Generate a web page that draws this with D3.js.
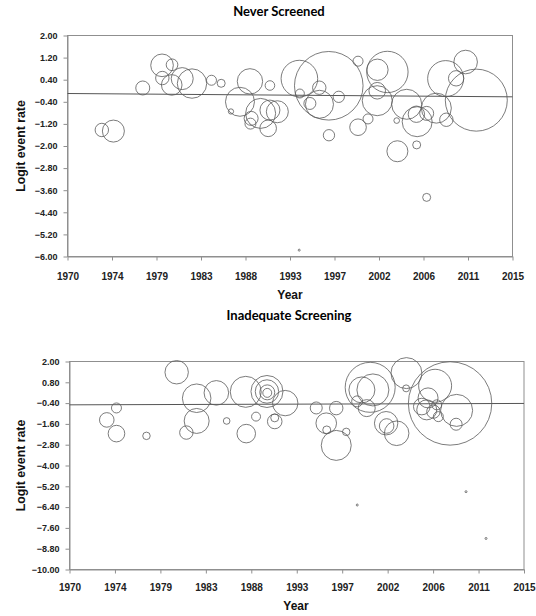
<!DOCTYPE html>
<html>
<head>
<meta charset="utf-8">
<script src="https://cdn.jsdelivr.net/npm/d3@7"></script>
<style>
  body { margin: 0; background: #fff; }
  svg { display: block; }
</style>
</head>
<body>
<div id="chart"></div>
<script>
// [year, logit event rate, study weight]
const neverScreened = [
  [1973.47, -1.42, 45], [1974.64, -1.46, 121], [1977.61, 0.10, 49], [1979.56, 0.92, 128],
  [1980.57, 0.94, 34], [1979.59, 0.46, 45], [1980.54, 0.21, 106], [1981.60, 0.44, 121],
  [1982.59, 0.26, 216], [1984.56, 0.38, 25], [1985.54, 0.27, 16], [1988.45, 0.34, 161],
  [1987.44, -0.40, 210], [1986.53, -0.75, 7], [1990.47, 0.19, 23], [1989.53, -0.82, 225],
  [1990.47, -0.70, 100], [1991.22, -0.76, 121], [1988.57, -1.00, 49], [1988.50, -1.19, 30],
  [1990.29, -1.36, 69], [1993.45, 0.44, 335], [1996.42, 0.18, 1176], [1993.50, -0.10, 20],
  [1995.46, 0.11, 45], [1994.51, -0.46, 36], [1995.48, -0.49, 196], [1997.43, -0.22, 32],
  [1999.38, 1.07, 25], [2001.34, 0.76, 114], [2002.35, 0.68, 428], [2001.32, 0.00, 69],
  [2001.32, -0.36, 225], [2000.39, -1.02, 25], [1999.38, -1.32, 69], [1996.44, -1.61, 32],
  [2003.29, -1.08, 8], [2003.36, -2.19, 110], [2004.30, -0.49, 225], [2005.36, -1.12, 225],
  [2005.28, -0.85, 67], [2006.32, -0.82, 49], [2007.30, -0.63, 225], [2005.31, -1.96, 16],
  [2008.24, 0.44, 324], [2008.31, -1.05, 45], [2009.30, 0.45, 59], [2010.26, 1.04, 139],
  [2011.34, -0.34, 961], [2006.32, -3.86, 16], [1993.43, -5.77, 1]
];

const inadequateScreening = [
  [1973.69, -1.37, 53], [1974.65, -0.68, 25], [1974.65, -2.16, 69], [1977.62, -2.29, 14],
  [1980.61, 1.38, 137], [1982.59, -0.12, 204], [1982.59, -1.43, 156], [1981.57, -2.10, 45],
  [1984.54, 0.19, 151], [1985.56, -1.43, 11], [1987.45, 0.25, 240], [1987.50, -2.16, 86],
  [1988.47, -1.18, 20], [1989.55, 0.27, 256], [1989.55, 0.27, 137], [1989.58, 0.22, 56],
  [1989.58, 0.19, 20], [1991.36, -0.40, 161], [1990.32, -1.46, 53], [1990.32, -1.25, 16],
  [1994.43, -0.68, 36], [1996.41, -0.69, 45], [1995.42, -1.56, 106], [1995.47, -1.95, 16],
  [1997.40, -2.06, 14], [1996.41, -2.84, 225], [1999.77, 0.51, 625], [2000.04, 0.36, 256],
  [1998.95, 0.36, 169], [1998.48, -0.30, 30], [1999.43, -0.69, 72], [2001.35, -1.56, 137],
  [2001.40, -1.72, 53], [2002.39, -2.14, 151], [2003.36, 1.33, 240], [2003.33, 0.45, 12],
  [2007.68, -0.42, 1739], [2006.20, 0.60, 272], [2005.50, -0.10, 100], [2008.33, -0.82, 256],
  [2008.28, -1.62, 36], [2004.88, -0.60, 69], [2005.37, -0.79, 100], [2006.03, -0.89, 45],
  [2006.36, -0.50, 25], [2006.52, -1.18, 25], [1998.49, -6.28, 1], [2009.26, -5.51, 1],
  [2011.24, -8.21, 1]
];

// meta-regression lines, [year, logit]
const neverLine = [[1970, -0.10], [2015, -0.22]];
const inadequateLine = [[1970, -0.50], [2015, -0.42]];

const xTickLabels = ["1970", "1974", "1979", "1983", "1988", "1993", "1997", "2002", "2006", "2011", "2015"];
const neverYTicks = [2.00, 1.20, 0.40, -0.40, -1.20, -2.00, -2.80, -3.60, -4.40, -5.20, -6.00];
const inadequateYTicks = [2.00, 0.80, -0.40, -1.60, -2.80, -4.00, -5.20, -6.40, -7.60, -8.80, -10.00];

const width = 536, height = 616;

const svg = d3.select("#chart").append("svg")
  .attr("width", width)
  .attr("height", height);

// same bubble scale for both panels
const radius = d3.scaleSqrt().domain([0, 1800]).range([0, Math.sqrt(1800)]);

function drawPanel(cfg) {
  const x = d3.scaleLinear().domain([1970, 2015]).range([cfg.left, cfg.right]);
  const y = d3.scaleLinear().domain(d3.extent(cfg.yTicks)).range([cfg.bottom, cfg.top]);

  const g = svg.append("g");

  // title
  g.append("text")
    .attr("x", cfg.titleX)
    .attr("y", cfg.titleY)
    .attr("text-anchor", "middle")
    .attr("font-family", "Lato, 'Open Sans', sans-serif")
    .attr("font-weight", "bold")
    .attr("font-size", 13)
    .text(cfg.title);

  // plot frame
  g.append("rect")
    .attr("x", cfg.left)
    .attr("y", cfg.top)
    .attr("width", cfg.right - cfg.left)
    .attr("height", cfg.bottom - cfg.top)
    .attr("fill", "none")
    .attr("stroke", "#8f8f8f")
    .attr("stroke-width", 1);

  // x axis, ticks every 4.5 years
  const xTicks = d3.range(11).map(i => 1970 + i * 4.5);
  const xAxis = g.append("g")
    .attr("transform", `translate(0,${cfg.bottom})`)
    .call(d3.axisBottom(x)
      .tickValues(xTicks)
      .tickFormat((d, i) => xTickLabels[i])
      .tickSize(4)
      .tickSizeOuter(0)
      .tickPadding(cfg.xPad));

  // y axis
  const yAxis = g.append("g")
    .attr("transform", `translate(${cfg.left},0)`)
    .call(d3.axisLeft(y)
      .tickValues(cfg.yTicks)
      .tickFormat(d3.format(".2f"))
      .tickSize(4)
      .tickSizeOuter(0)
      .tickPadding(6));

  [xAxis, yAxis].forEach(a => {
    a.select(".domain").attr("stroke", "#8f8f8f");
    a.selectAll(".tick line").attr("stroke", "#8f8f8f");
    a.selectAll(".tick text")
      .attr("fill", "#222")
      .attr("font-family", "'Liberation Sans', Arial, sans-serif")
      .attr("font-weight", "bold");
  });
  xAxis.selectAll(".tick text").attr("font-size", 10);
  yAxis.selectAll(".tick text").attr("font-size", 9);

  // axis titles
  g.append("text")
    .attr("transform", `translate(${cfg.yLabelX},${(cfg.top + cfg.bottom) / 2}) rotate(-90)`)
    .attr("text-anchor", "middle")
    .attr("font-family", "'Liberation Sans', Arial, sans-serif")
    .attr("font-weight", "bold")
    .attr("font-size", 12.3)
    .attr("fill", "#111")
    .text("Logit event rate");

  g.append("text")
    .attr("x", cfg.yearX)
    .attr("y", cfg.yearY)
    .attr("text-anchor", "middle")
    .attr("font-family", "'Liberation Sans', Arial, sans-serif")
    .attr("font-weight", "bold")
    .attr("font-size", 12)
    .attr("fill", "#111")
    .text("Year");

  // regression line
  g.append("path")
    .datum(cfg.line)
    .attr("d", d3.line().x(d => x(d[0])).y(d => y(d[1])))
    .attr("fill", "none")
    .attr("stroke", "#555")
    .attr("stroke-width", 1);

  // bubbles
  g.append("g")
    .selectAll("circle")
    .data(cfg.data)
    .join("circle")
    .attr("cx", d => x(d[0]))
    .attr("cy", d => y(d[1]))
    .attr("r", d => Math.max(0.8, radius(d[2])))
    .attr("fill", "none")
    .attr("stroke", "#5a5a5a")
    .attr("stroke-width", 0.8);
}

drawPanel({
  title: "Never Screened",
  data: neverScreened,
  line: neverLine,
  yTicks: neverYTicks,
  left: 67.5, right: 512.5, top: 35.5, bottom: 256.5,
  titleX: 279, titleY: 16,
  yLabelX: 25, yearX: 290, yearY: 299,
  xPad: 12
});

drawPanel({
  title: "Inadequate Screening",
  data: inadequateScreening,
  line: inadequateLine,
  yTicks: inadequateYTicks,
  left: 69.5, right: 524, top: 361.5, bottom: 569.5,
  titleX: 289, titleY: 320,
  yLabelX: 25, yearX: 296, yearY: 610,
  xPad: 10
});
</script>
</body>
</html>
